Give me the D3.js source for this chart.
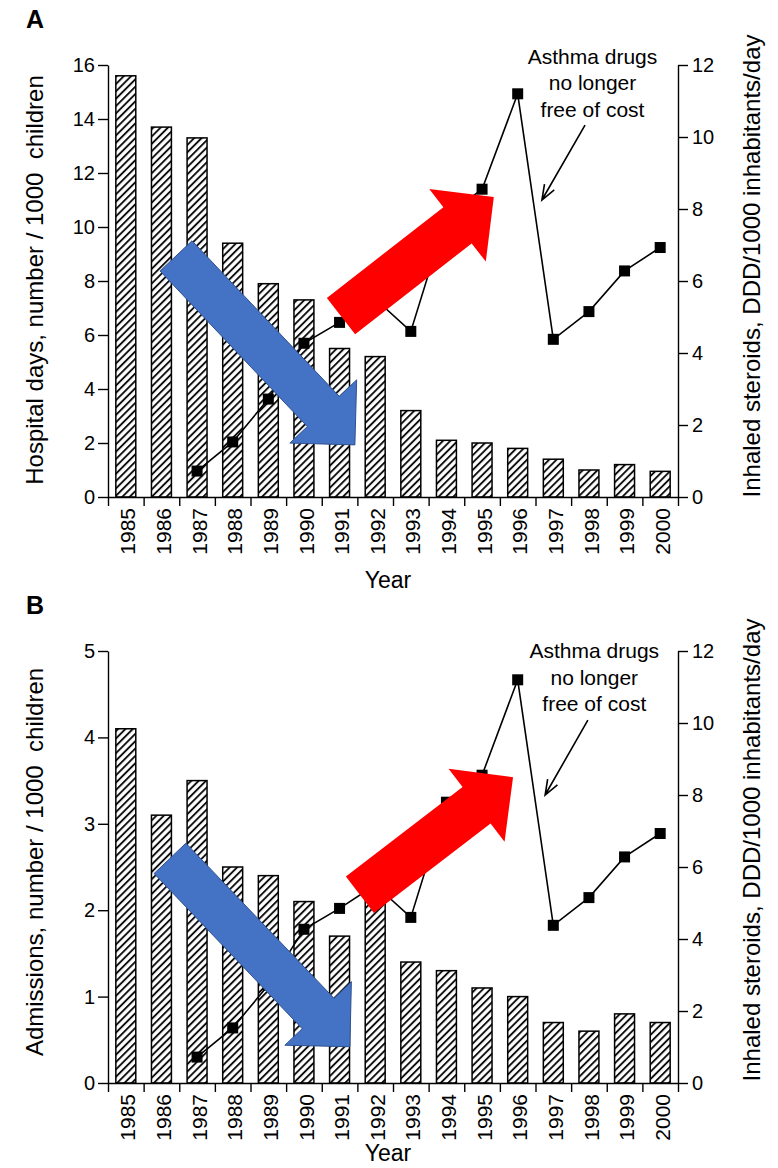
<!DOCTYPE html>
<html>
<head>
<meta charset="utf-8">
<script src="https://cdn.jsdelivr.net/npm/d3@7"></script>
<style>
  body { margin: 0; background: #fff; }
  svg { display: block; }
  text { font-family: "Liberation Sans", Arial, sans-serif; fill: #000; }
</style>
</head>
<body>
<div id="chart"></div>
<script>
// ---- data ----
var years = [1985, 1986, 1987, 1988, 1989, 1990, 1991, 1992, 1993, 1994, 1995, 1996, 1997, 1998, 1999, 2000];
var hospitalDays = [15.6, 13.7, 13.3, 9.4, 7.9, 7.3, 5.5, 5.2, 3.2, 2.1, 2.0, 1.8, 1.4, 1.0, 1.2, 0.95];
var admissions = [4.1, 3.1, 3.5, 2.5, 2.4, 2.1, 1.7, 2.2, 1.4, 1.3, 1.1, 1.0, 0.7, 0.6, 0.8, 0.7];
var steroids = [null, null, 0.72, 1.53, 2.72, 4.27, 4.85, 5.5, 4.6, 7.8, 8.55, 11.2, 4.38, 5.15, 6.28, 6.93];
var hospitalTicks = [0, 2, 4, 6, 8, 10, 12, 14, 16];
var admissionTicks = [0, 1, 2, 3, 4, 5];
var steroidTicks = [0, 2, 4, 6, 8, 10, 12];
var noteLines = ["Asthma drugs", "no longer", "free of cost"];

var width = 778, height = 1168,
    left = 108, right = 678;

var svg = d3.select("#chart").append("svg")
    .attr("width", width)
    .attr("height", height);

svg.append("rect").attr("width", width).attr("height", height).attr("fill", "#fff");

var defs = svg.append("defs");
var hatch = defs.append("pattern")
    .attr("id", "hatch")
    .attr("patternUnits", "userSpaceOnUse")
    .attr("width", 5.2)
    .attr("height", 5.2)
    .attr("patternTransform", "rotate(45)");
hatch.append("rect").attr("width", 5.2).attr("height", 5.2).attr("fill", "#fff");
hatch.append("line")
    .attr("x1", 1).attr("y1", 0).attr("x2", 1).attr("y2", 5.2)
    .attr("stroke", "#000").attr("stroke-width", 1.8);

var panels = [
  { letter: "A", top: 65, bottom: 497, leftMax: 16, ticks: hospitalTicks, bars: hospitalDays,
    leftTitle: "Hospital days, number / 1000  children", leftTitleY: 280, rightTitleY: 266, yearY: 588,
    blue: { from: [1986.41, 8.93], to: [1991.43, 1.93] },
    red: { from: [1991.04, 6.70], to: [1995.33, 11.11] },
    note: { x: 1998.1, y: 12.03, from: [1997.89, 10.33], to: [1996.68, 8.25] } },
  { letter: "B", top: 651, bottom: 1083, leftMax: 5, ticks: admissionTicks, bars: admissions,
    leftTitle: "Admissions, number / 1000  children", leftTitleY: 862, rightTitleY: 850, yearY: 1161,
    blue: { from: [1986.24, 2.60], to: [1991.29, 0.42] },
    red: { from: [1991.57, 2.18], to: [1995.87, 3.54] },
    note: { x: 1998.15, y: 11.8, from: [1997.97, 10.08], to: [1996.77, 8.0] } }
];

// block arrow polygon from tail centre to tip (pixels)
function blockArrow(a, b, hw, HW, L) {
  var dx = b[0] - a[0], dy = b[1] - a[1], len = Math.sqrt(dx * dx + dy * dy);
  var ux = dx / len, uy = dy / len, nx = -uy, ny = ux;
  var bx = b[0] - ux * L, by = b[1] - uy * L;
  var pts = [
    [a[0] + nx * hw, a[1] + ny * hw],
    [bx + nx * hw, by + ny * hw],
    [bx + nx * HW, by + ny * HW],
    b,
    [bx - nx * HW, by - ny * HW],
    [bx - nx * hw, by - ny * hw],
    [a[0] - nx * hw, a[1] - ny * hw]
  ];
  return "M" + pts.map(function(p) { return p[0] + "," + p[1]; }).join("L") + "Z";
}

panels.forEach(function(p) {
  var g = svg.append("g");

  var x = d3.scaleBand().domain(years).range([left, right]).paddingInner(0.44).paddingOuter(0.22);
  var xPos = d3.scaleLinear().domain([1984.5, 2000.5]).range([left, right]);
  var yL = d3.scaleLinear().domain([0, p.leftMax]).range([p.bottom, p.top]);
  var yR = d3.scaleLinear().domain([0, 12]).range([p.bottom, p.top]);

  // bars
  g.selectAll("rect.bar")
      .data(p.bars)
    .join("rect")
      .attr("class", "bar")
      .attr("x", function(d, i) { return x(years[i]); })
      .attr("y", function(d) { return yL(d); })
      .attr("width", x.bandwidth())
      .attr("height", function(d) { return yL(0) - yL(d); })
      .attr("fill", "url(#hatch)")
      .attr("stroke", "#000")
      .attr("stroke-width", 1.5);

  // axes
  var leftAxis = g.append("g")
      .attr("transform", "translate(" + left + ",0)")
      .call(d3.axisLeft(yL).tickValues(p.ticks).tickFormat(d3.format("d"))
        .tickSize(10).tickSizeOuter(0).tickPadding(3));
  leftAxis.selectAll("text").style("font-size", "20px");

  var rightAxis = g.append("g")
      .attr("transform", "translate(" + right + ",0)")
      .call(d3.axisRight(yR).tickValues(steroidTicks).tickFormat(d3.format("d"))
        .tickSize(10).tickSizeOuter(0).tickPadding(4));
  rightAxis.selectAll("text").style("font-size", "20px");

  var bounds = years.map(function(y) { return y - 0.5; }).concat([years[years.length - 1] + 0.5]);
  g.append("g")
      .attr("transform", "translate(0," + p.bottom + ")")
      .call(d3.axisBottom(xPos).tickValues(bounds).tickSize(9).tickSizeOuter(0).tickFormat(""));

  g.selectAll("path.domain, .tick line").attr("stroke", "#000").attr("stroke-width", 1.4);

  g.selectAll("text.year")
      .data(years)
    .join("text")
      .attr("class", "year")
      .attr("transform", function(d) {
        return "translate(" + (x(d) + x.bandwidth() / 2 + 2) + "," + (p.bottom + 11) + ") rotate(-90)";
      })
      .attr("dy", "0.36em")
      .attr("text-anchor", "end")
      .style("font-size", "21px")
      .text(function(d) { return d; });

  // titles
  g.append("text")
      .attr("transform", "translate(43," + p.leftTitleY + ") rotate(-90)")
      .attr("text-anchor", "middle")
      .attr("xml:space", "preserve")
      .style("white-space", "pre")
      .style("font-size", "24px")
      .text(p.leftTitle);

  g.append("text")
      .attr("transform", "translate(760," + p.rightTitleY + ") rotate(-90)")
      .attr("text-anchor", "middle")
      .style("font-size", "24px")
      .text("Inhaled steroids, DDD/1000 inhabitants/day");

  g.append("text")
      .attr("x", (left + right) / 2 - 5)
      .attr("y", p.yearY)
      .attr("text-anchor", "middle")
      .style("font-size", "23px")
      .text("Year");

  g.append("text")
      .attr("x", 26)
      .attr("y", p.top - 37)
      .style("font-size", "25px")
      .style("font-weight", "bold")
      .text(p.letter);

  // steroid consumption line
  var line = d3.line()
      .defined(function(d) { return d != null; })
      .x(function(d, i) { return xPos(years[i]); })
      .y(function(d) { return yR(d); });

  g.append("path")
      .datum(steroids)
      .attr("d", line)
      .attr("fill", "none")
      .attr("stroke", "#000")
      .attr("stroke-width", 1.6);

  g.selectAll("rect.mark")
      .data(steroids.map(function(v, i) { return { year: years[i], v: v }; }).filter(function(d) { return d.v != null; }))
    .join("rect")
      .attr("class", "mark")
      .attr("x", function(d) { return xPos(d.year) - 5.5; })
      .attr("y", function(d) { return yR(d.v) - 5.5; })
      .attr("width", 11)
      .attr("height", 11)
      .attr("fill", "#000");

  // annotation
  var note = g.append("text")
      .attr("text-anchor", "middle")
      .style("font-size", "21px");
  note.selectAll("tspan")
      .data(noteLines)
    .join("tspan")
      .attr("x", xPos(p.note.x))
      .attr("y", function(d, i) { return yR(p.note.y) + i * 26.5; })
      .text(function(d) { return d; });

  var a0 = [xPos(p.note.from[0]), yR(p.note.from[1])],
      a1 = [xPos(p.note.to[0]), yR(p.note.to[1])];
  var ang = Math.atan2(a0[1] - a1[1], a0[0] - a1[0]);
  var hl = 16, spread = 0.36;
  g.append("path")
      .attr("d", "M" + a0 + "L" + a1 +
        "M" + [a1[0] + hl * Math.cos(ang + spread), a1[1] + hl * Math.sin(ang + spread)] +
        "L" + a1 +
        "L" + [a1[0] + hl * Math.cos(ang - spread), a1[1] + hl * Math.sin(ang - spread)])
      .attr("fill", "none")
      .attr("stroke", "#000")
      .attr("stroke-width", 1.6);

  // big coloured arrows laid over the chart
  g.append("path")
      .attr("d", blockArrow([xPos(p.blue.from[0]), yL(p.blue.from[1])], [xPos(p.blue.to[0]), yL(p.blue.to[1])], 22, 46, 46))
      .attr("fill", "#4472c4")
      .attr("stroke", "#2f528f")
      .attr("stroke-width", 1);

  g.append("path")
      .attr("d", blockArrow([xPos(p.red.from[0]), yL(p.red.from[1])], [xPos(p.red.to[0]), yL(p.red.to[1])], 23, 46, 46))
      .attr("fill", "#ff0000");
});
</script>
</body>
</html>
